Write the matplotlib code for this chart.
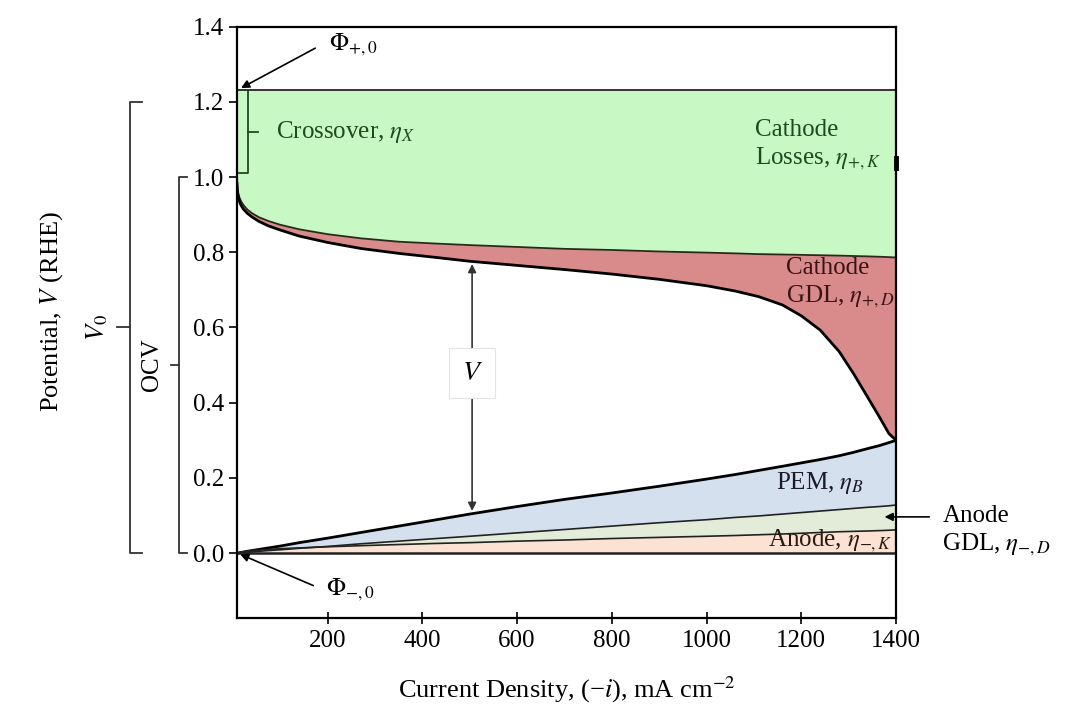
import matplotlib
matplotlib.use("Agg")
import matplotlib.pyplot as plt
import matplotlib.transforms as mtransforms
import numpy as np

plt.rcParams['font.family'] = ['Liberation Serif', 'DejaVu Serif']
plt.rcParams['mathtext.fontset'] = 'stix'

# ---- data ----
current = [8, 10, 13, 17, 22, 30, 40, 55, 75, 100, 140, 200, 270, 350, 430, 500,
           600, 700, 800, 900, 1000, 1060, 1110, 1160, 1200, 1240, 1280, 1310,
           1340, 1365, 1385, 1400]
phi_plus0 = 1.23
cathode_kinetic = [1.00, 0.965, 0.948, 0.936, 0.926, 0.914, 0.904, 0.893, 0.883,
                   0.873, 0.861, 0.848, 0.837, 0.828, 0.823, 0.819, 0.814, 0.809,
                   0.806, 0.802, 0.799, 0.797, 0.795, 0.794, 0.793, 0.792, 0.791,
                   0.790, 0.789, 0.788, 0.787, 0.786]
cell_voltage = [0.99, 0.955, 0.938, 0.925, 0.915, 0.904, 0.894, 0.882, 0.870,
                0.859, 0.843, 0.826, 0.810, 0.797, 0.786, 0.776, 0.765, 0.754,
                0.742, 0.728, 0.711, 0.697, 0.682, 0.660, 0.631, 0.593, 0.536,
                0.478, 0.415, 0.362, 0.318, 0.300]
pem_top = [0.0, 0.0005, 0.001, 0.002, 0.003, 0.005, 0.007, 0.010, 0.014, 0.019,
           0.028, 0.040, 0.055, 0.072, 0.089, 0.104, 0.124, 0.143, 0.160, 0.178,
           0.197, 0.209, 0.220, 0.231, 0.240, 0.249, 0.259, 0.268, 0.278, 0.286,
           0.294, 0.300]
anode_gdl_top = [0.0, 0.0003, 0.0007, 0.001, 0.0015, 0.0025, 0.0035, 0.005, 0.007,
                 0.009, 0.013, 0.018, 0.025, 0.032, 0.039, 0.045, 0.054, 0.063,
                 0.072, 0.081, 0.089, 0.095, 0.099, 0.104, 0.108, 0.112, 0.116,
                 0.119, 0.122, 0.124, 0.126, 0.128]
anode_kin_top = [0.0, 0.001, 0.002, 0.003, 0.004, 0.005, 0.007, 0.008, 0.010, 0.012,
                 0.014, 0.017, 0.020, 0.023, 0.026, 0.028, 0.032, 0.035, 0.039,
                 0.042, 0.045, 0.047, 0.049, 0.051, 0.053, 0.055, 0.057, 0.058,
                 0.059, 0.060, 0.061, 0.062]
x_ticks = [200, 400, 600, 800, 1000, 1200, 1400]
y_ticks = [0.0, 0.2, 0.4, 0.6, 0.8, 1.0, 1.2, 1.4]

i = np.array(current)
zero = np.zeros_like(i, dtype=float)

fig = plt.figure(figsize=(10.75, 7.17), dpi=100)
ax = fig.add_axes([0.2202, 0.1377, 0.6133, 0.8253])
ax.set_xlim(8, 1400)
ax.set_ylim(-0.173, 1.4)

c_green = '#c8f8c4'
c_red = '#d98b8b'
c_blue = '#d5e0ef'
c_agdl = '#e3ecd8'
c_akin = '#fce2d3'

ax.fill_between(i, cathode_kinetic, phi_plus0, color=c_green, lw=0)
ax.fill_between(i, cell_voltage, cathode_kinetic, color=c_red, lw=0)
ax.fill_between(i, anode_gdl_top, pem_top, color=c_blue, lw=0)
ax.fill_between(i, anode_kin_top, anode_gdl_top, color=c_agdl, lw=0)
ax.fill_between(i, zero, anode_kin_top, color=c_akin, lw=0)

ax.axhline(phi_plus0, color='#222222', lw=1.3)
ax.plot(i, cathode_kinetic, color='#2a2a1a', lw=1.3, solid_joinstyle='round')
ax.plot(i, cell_voltage, color='black', lw=2.0, solid_joinstyle='round')
ax.plot(i, pem_top, color='black', lw=2.0, solid_joinstyle='round')
ax.plot(i, anode_gdl_top, color='#222222', lw=1.2)
ax.plot(i, anode_kin_top, color='#222222', lw=1.2)
ax.plot(i, zero, color='#222222', lw=1.8)
# small thick mark on right spine
ax.plot([1400, 1400], [1.025, 1.05], color='black', lw=3.5, clip_on=False)

for s in ax.spines.values():
    s.set_linewidth(1.6)

ax.set_xticks(x_ticks)
ax.set_xticklabels([str(t) for t in x_ticks])
ax.set_yticks(y_ticks)
ax.set_yticklabels([f"{t:.1f}" for t in y_ticks])
ax.tick_params(axis='x', direction='inout', length=9, width=1.2, labelsize=18, pad=4)
ax.tick_params(axis='y', direction='out', length=6, width=1.2, labelsize=18, pad=3)

ax.set_xlabel("Current Density, (\u2212$i$), mA cm$^{-2}$", fontsize=19, labelpad=16)
fig.text(0.048, 0.565, "Potential, $V$ (RHE)", rotation=90, fontsize=19,
         ha='center', va='center')

# crossover bracket
gc = '#1f4a1f'
ax.plot([13, 31, 31, 13], [1.23, 1.23, 1.01, 1.01], color=gc, lw=1.3, clip_on=False)
ax.plot([31, 52], [1.12, 1.12], color=gc, lw=1.3)
ax.text(91, 1.12, "Crossover, $\\eta_X$", color=gc, fontsize=18, va='center', ha='left')
ax.text(1103, 1.083, "Cathode\nLosses, $\\eta_{+,K}$", color=gc, fontsize=18,
        va='center', ha='left', linespacing=1.25)
ax.text(1168, 0.716, "Cathode\nGDL, $\\eta_{+,D}$", color='#3a1414', fontsize=18,
        va='center', ha='left', linespacing=1.25)
ax.text(1147, 0.187, "PEM, $\\eta_B$", color='#1a1a2a', fontsize=18, va='center', ha='left')
ax.text(1130, 0.033, "Anode, $\\eta_{-,K}$", color='#2a1a10', fontsize=18,
        va='center', ha='left')
ax.text(1498, 0.057, "Anode\nGDL, $\\eta_{-,D}$", color='black', fontsize=18,
        va='center', ha='left', linespacing=1.25, clip_on=False)
ax.annotate("", xy=(1370, 0.0965), xytext=(1476, 0.0965),
            arrowprops=dict(arrowstyle='-|>', color='black', lw=1.2, mutation_scale=12),
            annotation_clip=False)

# Phi annotations
ax.annotate("", xy=(12, 1.233), xytext=(179, 1.346),
            arrowprops=dict(arrowstyle='-|>', color='black', lw=1.2, mutation_scale=12),
            annotation_clip=False)
ax.text(203, 1.352, "$\\Phi_{+,0}$", fontsize=18, va='center', ha='left')
ax.annotate("", xy=(10, 0.0), xytext=(175, -0.089),
            arrowprops=dict(arrowstyle='-|>', color='black', lw=1.2, mutation_scale=12),
            annotation_clip=False)
ax.text(196, -0.098, "$\\Phi_{-,0}$", fontsize=18, va='center', ha='left')

# V double arrow
ax.annotate("", xy=(505, 0.776), xytext=(505, 0.105),
            arrowprops=dict(arrowstyle='<|-|>', color='#333333', lw=1.2, mutation_scale=12))
ax.text(505, 0.478, "$V$", fontsize=20, ha='center', va='center',
        bbox=dict(boxstyle='square,pad=0.45', facecolor='white', edgecolor='#e4e4e4', lw=0.8))

# outer brackets (V0 and OCV)
trans = mtransforms.blended_transform_factory(ax.transAxes, ax.transData)
bc = '#333333'
ax.plot([-0.144, -0.162, -0.162, -0.144], [1.2, 1.2, 0.0, 0.0], color=bc, lw=1.3,
        transform=trans, clip_on=False)
ax.plot([-0.162, -0.182], [0.6, 0.6], color=bc, lw=1.3, transform=trans, clip_on=False)
ax.text(-0.211, 0.6, "$V_0$", rotation=90, fontsize=19, ha='center', va='center',
        transform=trans)
ax.plot([-0.075, -0.0875, -0.0875, -0.075], [1.0, 1.0, 0.0, 0.0], color=bc, lw=1.3,
        transform=trans, clip_on=False)
ax.plot([-0.0875, -0.099], [0.5, 0.5], color=bc, lw=1.3, transform=trans, clip_on=False)
ax.text(-0.128, 0.5, "OCV", rotation=90, fontsize=18, ha='center', va='center',
        transform=trans)

fig.savefig("out.png", dpi=100)
